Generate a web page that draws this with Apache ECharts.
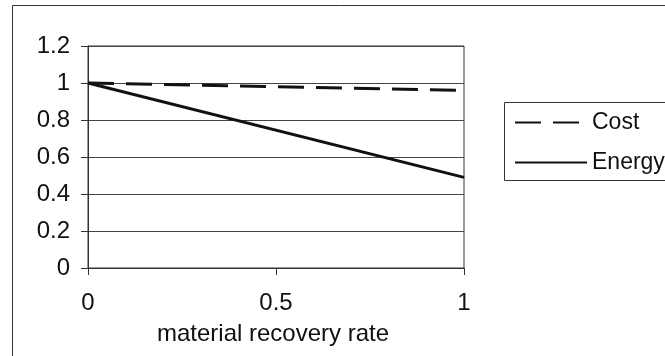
<!DOCTYPE html>
<html>
<head>
<meta charset="utf-8">
<script src="https://cdn.jsdelivr.net/npm/echarts@6/dist/echarts.min.js"></script>
<style>
html,body{margin:0;padding:0;background:#fff;}
#c{width:665px;height:356px;}
</style>
</head>
<body>
<div id="c"></div>
<script>
var xValues = [0, 1];
var costValues = [1, 0.96];
var energyValues = [1, 0.49];
var seriesNames = ['Cost', 'Energy'];
var xAxisTitle = 'material recovery rate';

function pairs(xs, ys) { return xs.map(function (x, i) { return [x, ys[i]]; }); }

var FONT = 'Liberation Sans, Arial, sans-serif';
var FS = 24;
var chart = echarts.init(document.getElementById('c'), null, {renderer: 'canvas'});
chart.setOption({
  animation: false,
  backgroundColor: '#fff',
  graphic: [
    {type: 'rect', shape: {x: 12.5, y: 5.5, width: 700, height: 400}, style: {fill: 'none', stroke: '#333', lineWidth: 1}},
    {type: 'rect', shape: {x: 504.5, y: 102.5, width: 200, height: 78}, style: {fill: 'none', stroke: '#333', lineWidth: 1}}
  ],
  grid: {left: 88, right: 201, top: 46, bottom: 88, show: true, borderColor: '#333', borderWidth: 1, backgroundColor: 'transparent'},
  legend: {
    orient: 'vertical', left: 514, top: 111, padding: 0,
    itemWidth: 72, itemHeight: 14, itemGap: 17,
    textStyle: {fontFamily: FONT, fontSize: 23, color: '#111'},
    itemTextGap: 4,
    itemStyle: {color: 'rgba(0,0,0,0)', borderColor: 'rgba(0,0,0,0)', borderWidth: 0},
    data: seriesNames
  },
  xAxis: {
    type: 'value', min: 0, max: 1, interval: 0.5,
    name: xAxisTitle, nameLocation: 'middle', nameGap: 54,
    nameTextStyle: {fontFamily: FONT, fontSize: FS, color: '#111', padding: [0, 6, 0, 0]},
    axisLine: {show: true, lineStyle: {color: '#333', width: 1}},
    axisTick: {show: true, length: 7, lineStyle: {color: '#333'}},
    axisLabel: {fontFamily: FONT, fontSize: FS, color: '#111', margin: 23},
    splitLine: {show: false}
  },
  yAxis: {
    type: 'value', min: 0, max: 1.2, interval: 0.2,
    axisLine: {show: true, lineStyle: {color: '#333', width: 1}},
    axisTick: {show: true, length: 7, lineStyle: {color: '#333'}},
    axisLabel: {fontFamily: FONT, fontSize: FS, color: '#111', margin: 18,
      formatter: function (v) { return String(Math.round(v * 10) / 10); }},
    splitLine: {show: true, lineStyle: {color: '#444', width: 1}}
  },
  series: [
    {name: seriesNames[0], type: 'line', data: pairs(xValues, costValues), symbol: 'none',
     lineStyle: {color: '#111', width: 3, type: [26, 12]}, itemStyle: {color: '#111'}},
    {name: seriesNames[1], type: 'line', data: pairs(xValues, energyValues), symbol: 'none',
     lineStyle: {color: '#111', width: 3, type: 'solid'}, itemStyle: {color: '#111'}}
  ]
});
</script>
</body>
</html>
